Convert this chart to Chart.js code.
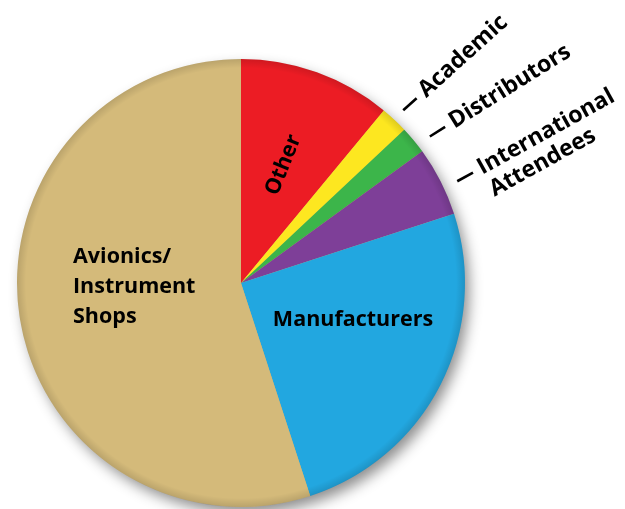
<!DOCTYPE html>
<html><head><meta charset="utf-8">
<script src="https://cdn.jsdelivr.net/npm/chart.js@4.4.0/dist/chart.umd.min.js"></script>
<style>html,body{margin:0;padding:0;background:#fff;}#c{display:block}</style>
</head><body>
<canvas id="c" width="625" height="509"></canvas>
<script>
const categories = ['Other', 'Academic', 'Distributors', 'International Attendees', 'Manufacturers', 'Avionics/Instrument Shops'];
const shares = [11, 2, 2, 5, 25, 55];
const labelLines = [['Other'], ['Academic'], ['Distributors'], ['International', 'Attendees'], ['Manufacturers'], ['Avionics/', 'Instrument', 'Shops']];
const sliceColors = ['#EC1C24', '#FDE720', '#3CB54A', '#7E3F98', '#22A7E0', '#D4BA7A'];

const FONT_IN = 'bold 21.5px "Open Sans", sans-serif';
const FONT_OUT = 'bold 23px "Open Sans", sans-serif';

// style of each label (placement only)
const labelStyle = [
  {mode: 'inside', polarFrac: 0.56, rot: -68, align: 'center'},
  {mode: 'outside', rot: -42, dAng: 0, gap: 13},
  {mode: 'outside', rot: -32, dAng: 1.8, gap: 15},
  {mode: 'outside', rot: -29, dAng: 1.8, gap: 15},
  {mode: 'inside', dxFrac: 0.50, dyFrac: 0.165, rot: 0, align: 'center'},
  {mode: 'inside', dxFrac: -0.75, dyFrac: -0.115, rot: 0, align: 'left', lineH: 30}
];

const shadowPlugin = {
  id: 'pieShadow',
  beforeDatasetsDraw(chart) {
    const arc = chart.getDatasetMeta(0).data[0];
    const ctx = chart.ctx;
    ctx.save();
    ctx.beginPath();
    ctx.arc(arc.x, arc.y, arc.outerRadius - 1, 0, Math.PI * 2);
    ctx.shadowColor = 'rgba(0,0,0,0.45)';
    ctx.shadowBlur = 14;
    ctx.shadowOffsetX = 5;
    ctx.shadowOffsetY = 7;
    ctx.fillStyle = '#c8b070';
    ctx.fill();
    ctx.restore();
  },
  afterDatasetsDraw(chart) {
    const arc = chart.getDatasetMeta(0).data[0];
    const ctx = chart.ctx;
    const r = arc.outerRadius;
    ctx.save();
    const g = ctx.createRadialGradient(arc.x, arc.y, r * 0.96, arc.x, arc.y, r);
    g.addColorStop(0, 'rgba(0,0,0,0)');
    g.addColorStop(1, 'rgba(0,0,0,0.12)');
    ctx.beginPath();
    ctx.arc(arc.x, arc.y, r, 0, Math.PI * 2);
    ctx.fillStyle = g;
    ctx.fill();
    ctx.restore();
  }
};

const labelPlugin = {
  id: 'sliceLabels',
  afterDatasetsDraw(chart) {
    const ctx = chart.ctx;
    const meta = chart.getDatasetMeta(0);
    meta.data.forEach((arc, i) => {
      const st = labelStyle[i];
      const lines = labelLines[i];
      const r = arc.outerRadius;
      const mid = (arc.startAngle + arc.endAngle) / 2;
      ctx.save();
      ctx.fillStyle = '#000';
      ctx.strokeStyle = '#000';
      if (st.mode === 'inside') {
        ctx.font = FONT_IN;
        let x, y;
        if (st.polarFrac !== undefined) {
          x = arc.x + Math.cos(mid) * r * st.polarFrac;
          y = arc.y + Math.sin(mid) * r * st.polarFrac;
        } else {
          x = arc.x + r * st.dxFrac;
          y = arc.y + r * st.dyFrac;
        }
        ctx.translate(x, y);
        ctx.rotate(st.rot * Math.PI / 180);
        ctx.textAlign = st.align;
        ctx.textBaseline = 'middle';
        const lh = st.lineH || 26;
        lines.forEach((t, k) => ctx.fillText(t, 0, k * lh));
      } else {
        ctx.font = FONT_OUT;
        const a = mid + st.dAng * Math.PI / 180;
        const x = arc.x + Math.cos(a) * (r + st.gap);
        const y = arc.y + Math.sin(a) * (r + st.gap);
        ctx.translate(x, y);
        ctx.rotate(st.rot * Math.PI / 180);
        ctx.lineWidth = 2.6;
        ctx.beginPath();
        ctx.moveTo(0, 0);
        ctx.lineTo(18, 0);
        ctx.stroke();
        ctx.textAlign = 'left';
        ctx.textBaseline = 'middle';
        lines.forEach((t, k) => ctx.fillText(t, 25, k * 25));
      }
      ctx.restore();
    });
  }
};

new Chart(document.getElementById('c'), {
  type: 'pie',
  data: {
    labels: categories,
    datasets: [{
      data: shares,
      backgroundColor: sliceColors,
      borderWidth: 0
    }]
  },
  options: {
    responsive: false,
    animation: false,
    layout: {padding: {left: 17, top: 59, right: 160, bottom: 2}},
    plugins: {legend: {display: false}, tooltip: {enabled: false}}
  },
  plugins: [shadowPlugin, labelPlugin]
});
</script>
</body></html>
